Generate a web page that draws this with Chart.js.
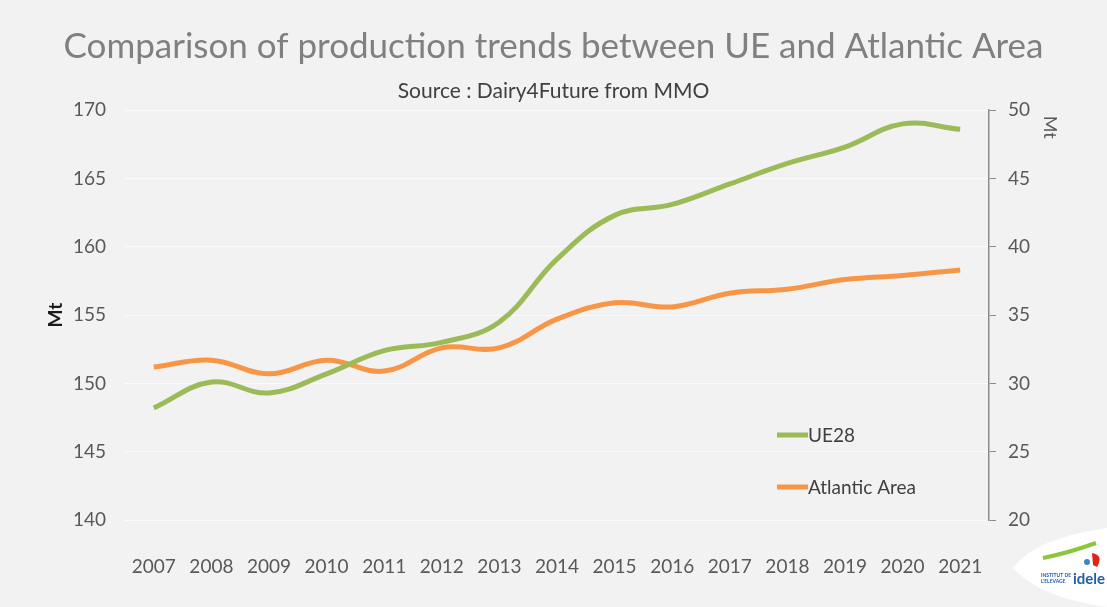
<!DOCTYPE html>
<html>
<head>
<meta charset="utf-8">
<script src="https://cdn.jsdelivr.net/npm/chart.js@4.4.1/dist/chart.umd.min.js"></script>
<style>
  html, body { margin: 0; padding: 0; background: #f2f2f2; }
  #wrap { width: 1107px; height: 607px; position: relative; }
</style>
</head>
<body>
<div id="wrap"><canvas id="chart" width="1107" height="607"></canvas></div>
<script>
// data
const years = ['2007', '2008', '2009', '2010', '2011', '2012', '2013', '2014',
               '2015', '2016', '2017', '2018', '2019', '2020', '2021'];
const ue28 = [148.2, 150.1, 149.3, 150.7, 152.4, 153.0, 154.5, 159.1,
              162.3, 163.1, 164.6, 166.1, 167.3, 169.0, 168.6];
const atlantic = [31.2, 31.7, 30.7, 31.7, 30.9, 32.6, 32.6, 34.7,
                  35.9, 35.6, 36.6, 36.9, 37.6, 37.9, 38.3];
const legendLabels = ['UE28', 'Atlantic Area'];

const GREEN = '#9bbb59';
const ORANGE = '#f79646';
const FONT = 'Lato, "Open Sans", sans-serif';

// legend placed inside the plot, right axis title at the top, logo in the corner
const extras = {
  id: 'extras',
  afterDraw(chart) {
    const ctx = chart.ctx;
    const area = chart.chartArea;
    ctx.save();

    // legend
    const items = [
      { color: GREEN, text: legendLabels[0], y: 435 },
      { color: ORANGE, text: legendLabels[1], y: 487 }
    ];
    ctx.font = '19px ' + FONT;
    ctx.textBaseline = 'middle';
    ctx.textAlign = 'left';
    items.forEach(it => {
      ctx.strokeStyle = it.color;
      ctx.lineWidth = 5;
      ctx.beginPath();
      ctx.moveTo(777, it.y);
      ctx.lineTo(808, it.y);
      ctx.stroke();
      ctx.fillStyle = '#404040';
      ctx.fillText(it.text, 808, it.y + 1);
    });

    // right axis title, rotated, at the top
    ctx.translate(1050, area.top + 17);
    ctx.rotate(Math.PI / 2);
    ctx.fillStyle = '#595959';
    ctx.font = '18px ' + FONT;
    ctx.textAlign = 'center';
    ctx.fillText('Mt', 0, 0);
    ctx.restore();

    // logo
    ctx.save();
    ctx.fillStyle = '#ffffff';
    ctx.beginPath();
    ctx.moveTo(1107, 528);
    ctx.quadraticCurveTo(1035, 538, 1013, 568);
    ctx.quadraticCurveTo(1040, 598, 1107, 607);
    ctx.closePath();
    ctx.fill();
    ctx.strokeStyle = '#8cc63f';
    ctx.lineWidth = 4;
    ctx.beginPath();
    ctx.moveTo(1043, 558);
    ctx.quadraticCurveTo(1068, 553, 1096, 543);
    ctx.stroke();
    ctx.fillStyle = '#e2231a';
    ctx.beginPath();
    ctx.moveTo(1092, 553);
    ctx.quadraticCurveTo(1104, 555, 1097, 567);
    ctx.lineTo(1093, 565);
    ctx.closePath();
    ctx.fill();
    ctx.fillStyle = '#3a86c8';
    ctx.beginPath();
    ctx.arc(1087, 562, 3, 0, Math.PI * 2);
    ctx.fill();
    ctx.fillStyle = '#1f5fa8';
    ctx.font = 'bold 5px ' + FONT;
    ctx.textAlign = 'left';
    ctx.textBaseline = 'alphabetic';
    ctx.fillText('INSTITUT DE', 1041, 577);
    ctx.fillText("L'ELEVAGE", 1041, 583);
    ctx.font = 'bold 15px ' + FONT;
    ctx.fillText('idele', 1073, 584);
    ctx.restore();
  }
};

new Chart(document.getElementById('chart'), {
  type: 'line',
  data: {
    labels: years,
    datasets: [
      {
        label: legendLabels[0],
        data: ue28,
        yAxisID: 'y',
        borderColor: GREEN,
        borderWidth: 5,
        pointRadius: 0,
        tension: 0.4,
        fill: false
      },
      {
        label: legendLabels[1],
        data: atlantic,
        yAxisID: 'y1',
        borderColor: ORANGE,
        borderWidth: 5,
        pointRadius: 0,
        tension: 0.4,
        fill: false
      }
    ]
  },
  options: {
    responsive: false,
    animation: false,
    layout: { padding: 0 },
    plugins: {
      legend: { display: false },
      tooltip: { enabled: false },
      title: {
        display: true,
        text: 'Comparison of production trends between UE and Atlantic Area',
        color: '#808080',
        font: { family: FONT, size: 35, weight: 'normal' },
        padding: { top: 26, bottom: 5 }
      },
      subtitle: {
        display: true,
        text: 'Source : Dairy4Future from MMO',
        color: '#404040',
        font: { family: FONT, size: 21 },
        padding: { top: 6, bottom: 6 }
      }
    },
    scales: {
      x: {
        offset: true,
        grid: { display: false },
        border: { display: false },
        ticks: { color: '#595959', font: { family: FONT, size: 19 }, padding: 27, maxRotation: 0 },
        afterFit: s => { s.height = 87; }
      },
      y: {
        position: 'left',
        min: 140,
        max: 170,
        ticks: { stepSize: 5, color: '#595959', font: { family: FONT, size: 19 }, padding: 19 },
        grid: { color: '#fbfbfb', lineWidth: 1, drawTicks: false },
        border: { display: false },
        title: {
          display: true,
          text: 'Mt',
          color: '#1a1a1a',
          font: { family: FONT, size: 19, weight: 'bold' },
          padding: { top: 44, bottom: 0 }
        },
        afterFit: s => { s.width = 125; }
      },
      y1: {
        position: 'right',
        min: 20,
        max: 50,
        ticks: { stepSize: 5, color: '#595959', font: { family: FONT, size: 19 }, padding: 12 },
        grid: { drawOnChartArea: false, color: '#8c8c8c', tickLength: 7 },
        border: { display: true, color: '#8c8c8c', width: 1.5 },
        afterFit: s => { s.width = 118; }
      }
    }
  },
  plugins: [extras]
});
</script>
</body>
</html>
